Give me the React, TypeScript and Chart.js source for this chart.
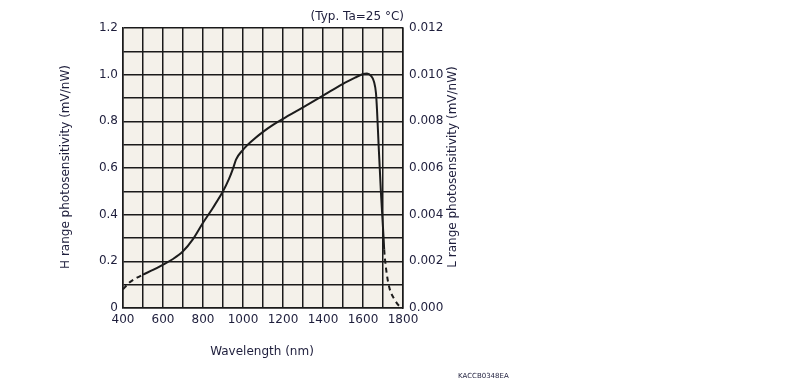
import React, { useEffect, useRef } from "react";
import { Chart, registerables } from "chart.js";

Chart.register(...registerables);

const wavelengths = [400, 430, 470, 500, 550, 600, 650, 700, 750, 800, 850, 900, 930, 950, 965, 1000, 1050, 1100, 1150, 1200, 1300, 1400, 1500, 1560, 1600, 1620, 1640, 1655, 1665, 1670, 1678, 1690, 1703, 1706, 1714, 1730, 1758, 1780, 1800];
const sensitivity = [0.08, 0.108, 0.13, 0.143, 0.163, 0.186, 0.21, 0.243, 0.295, 0.365, 0.43, 0.5, 0.553, 0.597, 0.636, 0.678, 0.72, 0.755, 0.785, 0.811, 0.86, 0.91, 0.961, 0.987, 1.003, 1.005, 0.995, 0.97, 0.92, 0.85, 0.7, 0.49, 0.3, 0.25, 0.178, 0.093, 0.036, 0.01, 0.0];

const dashedBelow = 500;
const dashedAbove = 1706;

const xTitle = "Wavelength (nm)";
const leftTitle = "H range photosensitivity (mV/nW)";
const rightTitle = "L range photosensitivity (mV/nW)";
const noteText = "(Typ. Ta=25 °C)";
const codeText = "KACCB0348EA";

const FONT = "'DejaVu Sans', Verdana, sans-serif";
const TEXT = "#1e1e3c";
const GRID = "#1a1a1a";
const PLOT_BG = "#f4f1ea";

const bgPlugin = {
  id: "plotBg",
  beforeDraw(chart: any) {
    const { ctx, chartArea } = chart;
    ctx.save();
    ctx.fillStyle = PLOT_BG;
    ctx.fillRect(chartArea.left, chartArea.top, chartArea.right - chartArea.left, chartArea.bottom - chartArea.top);
    ctx.restore();
  },
};

const textPlugin = {
  id: "texts",
  afterDraw(chart: any) {
    const { ctx, chartArea } = chart;
    ctx.save();
    ctx.fillStyle = TEXT;
    ctx.font = `12px ${FONT}`;
    ctx.textAlign = "center";
    ctx.textBaseline = "middle";
    ctx.fillText(xTitle, (chartArea.left + chartArea.right) / 2 - 1, 352);
    const midY = (chartArea.top + chartArea.bottom) / 2;
    ctx.save();
    ctx.translate(66, midY - 1);
    ctx.rotate(-Math.PI / 2);
    ctx.fillText(leftTitle, 0, 0);
    ctx.restore();
    ctx.save();
    ctx.translate(453, midY - 1);
    ctx.rotate(-Math.PI / 2);
    ctx.fillText(rightTitle, 0, 0);
    ctx.restore();
    ctx.textAlign = "right";
    ctx.fillText(noteText, chartArea.right + 1, 17);
    ctx.font = `7px ${FONT}`;
    ctx.textAlign = "left";
    ctx.fillText(codeText, 458, 376);
    ctx.restore();
  },
};

export default function App() {
  const ref = useRef<HTMLCanvasElement | null>(null);
  useEffect(() => {
    if (!ref.current) return;
    const data = wavelengths.map((x, i) => ({ x, y: sensitivity[i] }));
    const chart = new Chart(ref.current, {
      type: "line",
      data: {
        datasets: [
          {
            data,
            borderColor: "#1c1c1c",
            borderWidth: 2,
            pointRadius: 0,
            cubicInterpolationMode: "monotone",
            fill: false,
            segment: {
              borderDash: (c: any) =>
                c.p1.parsed.x <= dashedBelow || c.p0.parsed.x >= dashedAbove ? [5, 4] : undefined,
            },
          } as any,
        ],
      },
      options: {
        animation: false,
        responsive: false,
        maintainAspectRatio: false,
        layout: { padding: { top: 28, left: 0, right: 0, bottom: 0 } },
        plugins: { legend: { display: false }, tooltip: { enabled: false } },
        scales: {
          x: {
            type: "linear",
            min: 400,
            max: 1800,
            afterFit: (s: any) => { s.height = 72; },
            ticks: {
              stepSize: 100,
              autoSkip: false,
              maxRotation: 0,
              padding: 5,
              color: TEXT,
              font: { family: FONT, size: 12 },
              callback: (v: any) => (Math.round(v) % 200 === 0 ? String(Math.round(v)) : ""),
            },
            grid: { color: GRID, lineWidth: 1.5, drawTicks: false },
            border: { color: GRID, width: 1.5 },
          },
          y: {
            type: "linear",
            position: "left",
            min: 0,
            max: 1.2,
            afterFit: (s: any) => { s.width = 123; },
            ticks: {
              stepSize: 0.1,
              autoSkip: false,
              padding: 5,
              color: TEXT,
              font: { family: FONT, size: 12 },
              callback: (v: any) => {
                const k = Math.round(v * 10);
                if (k % 2 !== 0) return "";
                return k === 0 ? "0" : (k / 10).toFixed(1);
              },
            },
            grid: { color: GRID, lineWidth: 1.5, drawTicks: false },
            border: { color: GRID, width: 1.5 },
          },
          y2: {
            type: "linear",
            position: "right",
            min: 0,
            max: 0.012,
            afterFit: (s: any) => { s.width = 804 - 403; },
            ticks: {
              stepSize: 0.002,
              autoSkip: false,
              padding: 6,
              color: TEXT,
              font: { family: FONT, size: 12 },
              callback: (v: any) => (Math.round(v * 1000) / 1000).toFixed(3),
            },
            grid: { display: false, drawTicks: false },
            border: { color: GRID, width: 1.5 },
          },
        },
      },
      plugins: [bgPlugin, textPlugin],
    });
    return () => chart.destroy();
  }, []);
  return (
    <div style={{ position: "fixed", left: 0, top: 0, width: 804, height: 380, background: "#fff" }}>
      <canvas ref={ref} width={804} height={380} style={{ width: 804, height: 380 }} />
    </div>
  );
}
